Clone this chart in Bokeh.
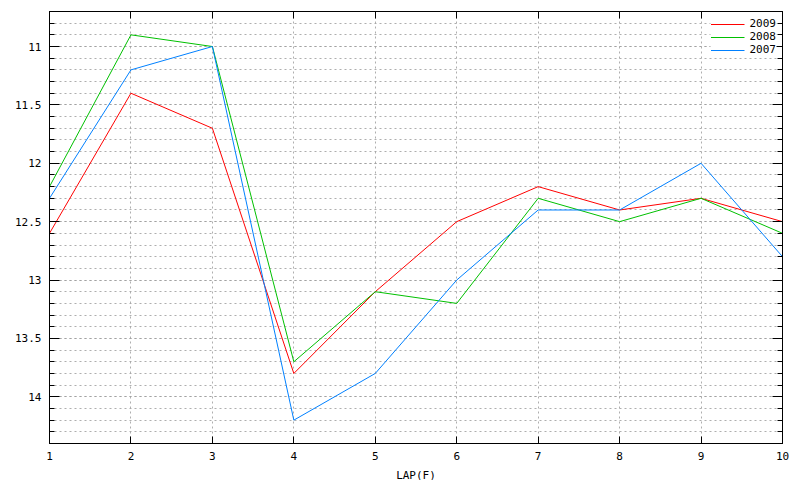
from bokeh.plotting import figure
from bokeh.models import Range1d, FixedTicker, LinearAxis, Legend, LegendItem
from bokeh.embed import file_html
from bokeh.resources import INLINE

laps = [1, 2, 3, 4, 5, 6, 7, 8, 9, 10]
y2009 = [12.6, 11.4, 11.7, 13.8, 13.1, 12.5, 12.2, 12.4, 12.3, 12.5]
y2008 = [12.2, 10.9, 11.0, 13.7, 13.1, 13.2, 12.3, 12.5, 12.3, 12.6]
y2007 = [12.3, 11.2, 11.0, 14.2, 13.8, 13.0, 12.4, 12.4, 12.0, 12.8]
series_names = ["2009", "2008", "2007"]
colors = ["#ff0000", "#00c000", "#0080ff"]
y_major = [11.0, 11.5, 12.0, 12.5, 13.0, 13.5, 14.0]
y_minor = [round(10.7 + 0.1 * i, 1) for i in range(38)]
x_label = "LAP(F)"

FONT = "DejaVu Sans Mono"
FS = "11px"

p = figure(frame_width=733, frame_height=432, output_backend="svg", toolbar_location=None,
           x_range=Range1d(1, 10), y_range=Range1d(14.4, 10.7),
           min_border_left=49, min_border_right=18, min_border_top=11, min_border_bottom=37)
p.outline_line_color = "black"
p.outline_line_width = 1

yt = FixedTicker(ticks=y_major, minor_ticks=y_minor)
xt = FixedTicker(ticks=laps, minor_ticks=[])

def style_axis(ax, labels=True):
    ax.axis_line_color = "black"
    ax.major_tick_in = 10
    ax.major_tick_out = 0
    ax.minor_tick_in = 5
    ax.minor_tick_out = 0
    ax.major_tick_line_color = "black"
    ax.minor_tick_line_color = "black"
    ax.major_label_text_font = FONT
    ax.major_label_text_font_size = FS
    ax.major_label_text_color = "black"
    if not labels:
        ax.major_label_text_font_size = "0px"
        ax.major_label_text_color = None

p.yaxis.ticker = yt
p.xaxis.ticker = xt
for ax in p.yaxis:
    style_axis(ax)
    ax.major_label_standoff = 8
for ax in p.xaxis:
    style_axis(ax)
    ax.major_tick_in = 7
    ax.major_label_standoff = 8
p.xaxis.axis_label = x_label
p.xaxis.axis_label_text_font = FONT
p.xaxis.axis_label_text_font_size = FS
p.xaxis.axis_label_text_font_style = "normal"
p.xaxis.axis_label_text_color = "black"
p.xaxis.axis_label_standoff = 6

ra = LinearAxis(ticker=yt)
style_axis(ra, labels=False)
p.add_layout(ra, "right")
ta = LinearAxis(ticker=xt)
style_axis(ta, labels=False)
ta.major_tick_in = 7
p.add_layout(ta, "above")

p.ygrid.ticker = yt
p.ygrid.grid_line_color = "#a0a0a0"
p.ygrid.grid_line_alpha = 0.85
p.ygrid.grid_line_dash = "2 3"
p.ygrid.minor_grid_line_color = "#a0a0a0"
p.ygrid.minor_grid_line_alpha = 0.85
p.ygrid.minor_grid_line_dash = "2 3"
p.xgrid.ticker = xt
p.xgrid.grid_line_color = "#a0a0a0"
p.xgrid.grid_line_alpha = 0.85
p.xgrid.grid_line_dash = "2 3"

items = []
for name, ys, c in zip(series_names, [y2009, y2008, y2007], colors):
    r = p.line(laps, ys, line_color=c, line_width=1)
    items.append(LegendItem(label=name, renderers=[r]))

legend = Legend(items=items, location="top_right")
legend.label_text_font = FONT
legend.label_text_font_size = FS
legend.label_text_color = "black"
legend.border_line_color = None
legend.background_fill_color = "white"
legend.background_fill_alpha = 1
legend.glyph_width = 34
legend.label_height = 12
legend.glyph_height = 12
legend.spacing = 0
legend.padding = 2
legend.margin = 6
p.add_layout(legend)

open("out.html", "w").write(file_html(p, INLINE))
